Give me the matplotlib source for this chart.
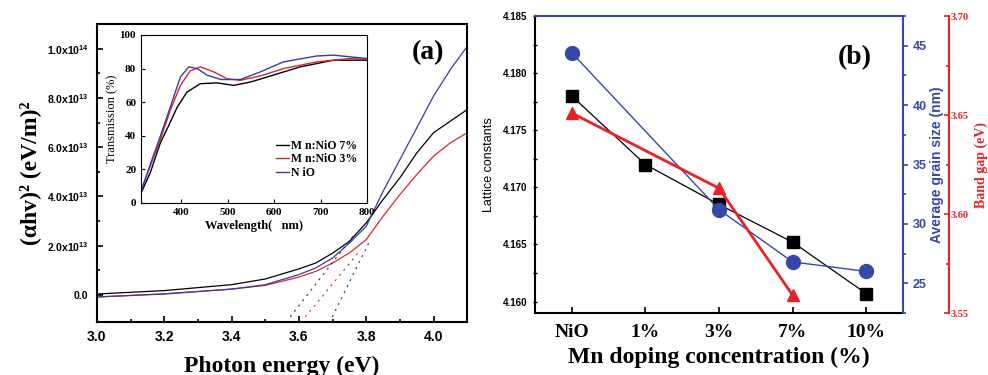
import matplotlib.pyplot as plt
from matplotlib.ticker import MultipleLocator, FixedLocator
import numpy as np

plt.rcParams['mathtext.fontset'] = 'custom'
plt.rcParams['mathtext.rm'] = 'Liberation Sans:bold'
plt.rcParams['mathtext.bf'] = 'Liberation Sans:bold'

# ---- Tauc plot data (photon energy in eV, (ahv)^2 in units of 1e13)
energy = [3.0, 3.2, 3.4, 3.5, 3.6, 3.65, 3.7, 3.75, 3.8, 3.85, 3.9, 3.95, 4.0, 4.05, 4.1]
tauc_7 = [0.04, 0.18, 0.42, 0.65, 1.06, 1.30, 1.70, 2.18, 2.93, 3.88, 4.76, 5.77, 6.59, 7.06, 7.53]
tauc_3 = [-0.08, 0.05, 0.24, 0.39, 0.73, 0.96, 1.30, 1.71, 2.25, 3.20, 4.08, 4.89, 5.64, 6.18, 6.59]
tauc_nio = [-0.08, 0.04, 0.24, 0.42, 0.83, 1.10, 1.50, 2.11, 2.79, 4.21, 5.50, 6.79, 8.08, 9.16, 10.1]

# linear fits drawn as dashed lines (two end points each)
fit_7_x, fit_7_y = [3.574, 3.768], [-0.89, 2.52]
fit_3_x, fit_3_y = [3.619, 3.783], [-0.89, 1.83]
fit_nio_x, fit_nio_y = [3.699, 3.812], [-0.89, 2.24]

# ---- transmission spectra for the inset
wl_7 = [315, 333, 355, 370, 391, 412, 441, 477, 513, 549, 585, 656, 728, 800]
tr_7 = [7, 18, 36, 44.5, 57, 66, 71, 71.5, 70, 72, 75, 81, 85, 85]
wl_3 = [315, 333, 355, 376, 398, 419, 441, 470, 498, 527, 570, 620, 692, 764, 800]
tr_3 = [9, 22, 38, 55, 70, 78.6, 81, 78, 74, 73, 75.6, 80, 84, 86, 85.5]
wl_nio = [315, 333, 355, 376, 398, 416, 434, 456, 485, 527, 570, 620, 692, 728, 800]
tr_nio = [8, 23, 40, 57, 75, 81, 80, 76, 73.5, 73.5, 78, 84, 87.5, 88, 86]

# ---- doping series
doping = ['NiO', '1%', '3%', '7%', '10%']
lattice = [4.178, 4.172, 4.1685, 4.1652, 4.1607]
grain_idx = [0, 2, 3, 4]
grain = [44.4, 31.2, 26.8, 26.0]
gap_idx = [0, 2, 3]
gap = [3.651, 3.613, 3.559]

blue = '#3548a8'
red = '#ea2028'
serif = 'Liberation Serif'
sans = 'Liberation Sans'

fig = plt.figure(figsize=(9.88, 3.75), dpi=100)

# ================= (a) =================
ax1 = fig.add_axes([0.098, 0.141, 0.375, 0.795])
scale = 1e13
ax1.plot(energy, np.array(tauc_7) * scale, color='black', lw=0.9)
ax1.plot(energy, np.array(tauc_3) * scale, color='#d42a2a', lw=0.9)
ax1.plot(energy, np.array(tauc_nio) * scale, color='#3a3aa0', lw=0.9)
ax1.plot(fit_7_x, np.array(fit_7_y) * scale, ls=(0, (2, 4)), color='#333333', lw=0.8)
ax1.plot(fit_3_x, np.array(fit_3_y) * scale, ls=(0, (2, 4)), color='#d42a2a', lw=0.8)
ax1.plot(fit_nio_x, np.array(fit_nio_y) * scale, ls=(0, (2, 4)), color='#3a3aa0', lw=0.8)
ax1.set_xlim(3.0, 4.1)
ax1.set_ylim(-1.1e13, 1.1e14)
ax1.xaxis.set_major_locator(FixedLocator([3.0, 3.2, 3.4, 3.6, 3.8, 4.0]))
ax1.xaxis.set_minor_locator(FixedLocator([3.1, 3.3, 3.5, 3.7, 3.9]))
ax1.yaxis.set_major_locator(FixedLocator([0, 2e13, 4e13, 6e13, 8e13, 1e14]))
ax1.yaxis.set_minor_locator(FixedLocator([1e13, 3e13, 5e13, 7e13, 9e13]))
ax1.set_yticklabels(['0.0', r'2.0x10$^{13}$', r'4.0x10$^{13}$', r'6.0x10$^{13}$',
                     r'8.0x10$^{13}$', r'1.0x10$^{14}$'])
ax1.set_xticklabels(['3.0', '3.2', '3.4', '3.6', '3.8', '4.0'])
ax1.tick_params(which='both', direction='in', width=1.2)
ax1.tick_params(which='major', length=4)
ax1.tick_params(which='minor', length=2.5)
ax1.tick_params(axis='y', labelsize=7.5, pad=6)
ax1.tick_params(axis='x', labelsize=10, pad=6)
for lab in ax1.get_xticklabels() + ax1.get_yticklabels():
    lab.set_family(sans)
    lab.set_fontweight('bold')
for sp in ax1.spines.values():
    sp.set_linewidth(1.5)
ax1.set_xlabel('Photon energy (eV)', family=serif, fontweight='bold', fontsize=17, labelpad=8)
ax1.set_ylabel('(αhv)² (eV/m)²', family=serif, fontweight='bold', fontsize=17, labelpad=4)
ax1.text(0.895, 0.905, '(a)', transform=ax1.transAxes, family=serif, fontweight='bold',
         fontsize=20, ha='center', va='center')

# inset
ins = fig.add_axes([0.1427, 0.4587, 0.2287, 0.448])
ins.plot(wl_7, tr_7, color='black', lw=1.0, label='M n:NiO 7%')
ins.plot(wl_3, tr_3, color='#d42a2a', lw=1.0, label='M n:NiO 3%')
ins.plot(wl_nio, tr_nio, color='#3a3aa0', lw=1.0, label='N iO')
ins.set_xlim(313, 800)
ins.set_ylim(0, 100)
ins.xaxis.set_major_locator(MultipleLocator(100))
ins.yaxis.set_major_locator(MultipleLocator(20))
ins.tick_params(direction='in', length=3, labelsize=8)
for lab in ins.get_xticklabels() + ins.get_yticklabels():
    lab.set_family(serif)
    lab.set_fontweight('bold')
ins.set_xlabel('Wavelength(   nm)', family=serif, fontweight='bold', fontsize=9, labelpad=2)
ins.set_ylabel('Transmission (%)', family=serif, fontsize=9, labelpad=1)
leg = ins.legend(loc='upper left', bbox_to_anchor=(0.55, 0.44), frameon=False,
                 handlelength=1.1, handletextpad=0.2, labelspacing=0.15,
                 prop={'family': serif, 'weight': 'bold', 'size': 8.5})

# ================= (b) =================
ax2 = fig.add_axes([0.5415, 0.1653, 0.3725, 0.792])
xpos = np.arange(len(doping))
ax2.plot(xpos, lattice, color='black', lw=0.9, marker='s', ms=9, zorder=3)
ax2.set_xlim(-0.5, 4.5)
ax2.set_ylim(4.159, 4.185)
ax2.set_xticks(xpos)
ax2.set_xticklabels(doping, family=serif, fontweight='bold', fontsize=14)
ax2.yaxis.set_major_locator(MultipleLocator(0.005))
ax2.yaxis.set_minor_locator(MultipleLocator(0.0025))
ax2.yaxis.set_major_formatter(plt.FormatStrFormatter('%.3f'))
ax2.tick_params(axis='x', direction='in', length=4, width=1.2, pad=8)
ax2.tick_params(axis='y', which='both', direction='inout', width=1.0, labelsize=7)
ax2.tick_params(axis='y', which='minor', length=3)
for lab in ax2.get_yticklabels():
    lab.set_family(sans)
    lab.set_fontweight('bold')
ax2.set_xlabel('Mn doping concentration (%)', family=serif, fontweight='bold', fontsize=17, labelpad=4)
ax2.set_ylabel('Lattice constants', family=sans, fontsize=9, labelpad=6)
ax2.spines['left'].set_linewidth(1.5)
ax2.spines['bottom'].set_linewidth(1.5)
ax2.spines['top'].set_color(blue)
ax2.spines['top'].set_linewidth(1.5)
ax2.spines['right'].set_visible(False)
ax2.text(0.87, 0.86, '(b)', transform=ax2.transAxes, family=serif, fontweight='bold',
         fontsize=20, ha='center', va='center')

ax3 = ax2.twinx()
ax3.plot(xpos[grain_idx], grain, color=blue, lw=1.0, marker='o', ms=10, zorder=3)
ax3.set_ylim(22.5, 47.5)
ax3.yaxis.set_major_locator(MultipleLocator(5))
ax3.yaxis.set_minor_locator(MultipleLocator(2.5))
ax3.tick_params(axis='y', which='both', direction='out', colors=blue, width=1.2, labelsize=9)
ax3.tick_params(axis='y', which='minor', length=2.5)
for lab in ax3.get_yticklabels():
    lab.set_family(sans)
    lab.set_fontweight('bold')
ax3.set_ylabel('Average grain size (nm)', family=sans, fontweight='bold', fontsize=10,
               color=blue, labelpad=2)
for name in ['left', 'bottom', 'top']:
    ax3.spines[name].set_visible(False)
ax3.spines['right'].set_color(blue)
ax3.spines['right'].set_linewidth(1.5)

ax4 = ax2.twinx()
ax4.spines['right'].set_position(('axes', 1.125))
ax4.plot(xpos[gap_idx], gap, color=red, lw=2.0, marker='^', ms=9, zorder=3)
ax4.set_ylim(3.55, 3.70)
ax4.yaxis.set_major_locator(MultipleLocator(0.05))
ax4.yaxis.set_minor_locator(MultipleLocator(0.025))
ax4.yaxis.set_major_formatter(plt.FormatStrFormatter('%.2f'))
ax4.tick_params(axis='y', which='both', direction='in', colors=red, width=1.2, labelsize=7.5, pad=1)
ax4.tick_params(axis='y', which='minor', length=2.5)
for lab in ax4.get_yticklabels():
    lab.set_family(serif)
    lab.set_fontweight('bold')
ax4.set_ylabel('Band gap (eV)', family=serif, fontweight='bold', fontsize=10, color=red, labelpad=4)
for name in ['left', 'bottom', 'top']:
    ax4.spines[name].set_visible(False)
ax4.spines['right'].set_color(red)
ax4.spines['right'].set_linewidth(1.5)

plt.savefig('out.png', dpi=100)
